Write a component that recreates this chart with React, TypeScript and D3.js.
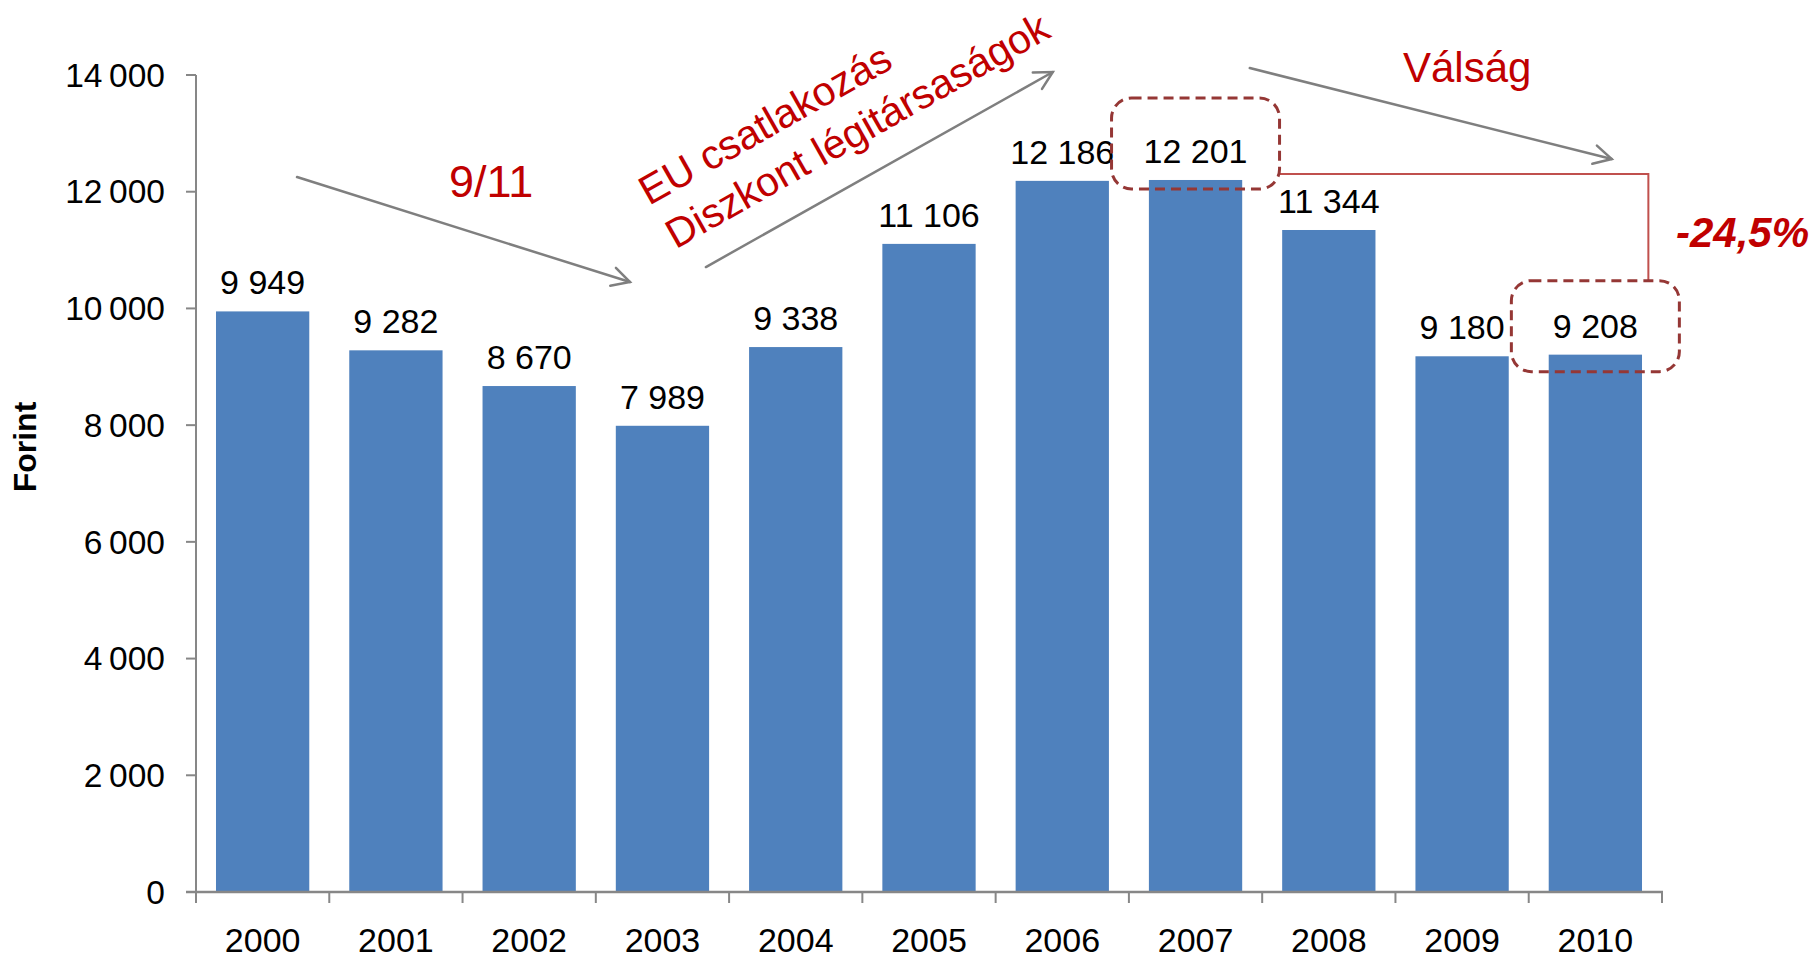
import React from "react";
import * as d3 from "d3";

const years = ["2000","2001","2002","2003","2004","2005","2006","2007","2008","2009","2010"];
const values = [9949, 9282, 8670, 7989, 9338, 11106, 12186, 12201, 11344, 9180, 9208];
const yTicks = [0, 2000, 4000, 6000, 8000, 10000, 12000, 14000];
const yTitle = "Forint";

// annotation arrows in (category index, value) space
const arrows = [
  { from: [0.258, 12252], to: [2.756, 10452] },
  { from: [3.326, 10709], to: [5.929, 14051] },
  { from: [7.407, 14119], to: [10.123, 12560] },
];
const highlightIdx = [7, 10];
const changeLabel = "-24,5%";

const W = 1814, H = 960;
const left = 196, right = 1662, top = 75, bottom = 892;
const FONT = "'Liberation Sans', Arial, sans-serif";

const fmt = (v: number) => {
  const s = String(v);
  return s.length > 3 ? s.slice(0, s.length - 3) + "\u2009" + s.slice(s.length - 3) : s;
};
const fmtLabel = (v: number) => {
  const s = String(v);
  return s.length > 3 ? s.slice(0, s.length - 3) + " " + s.slice(s.length - 3) : s;
};

export default function App() {
  const x = d3.scaleBand().domain(years).range([left, right]).paddingInner(0.3).paddingOuter(0.15);
  const y = d3.scaleLinear().domain([0, 14000]).range([bottom, top]);
  const xi = d3.scaleLinear().domain([-0.5, years.length - 0.5]).range([left, right]);
  const step = (right - left) / years.length;

  const arrowHead = (x1: number, y1: number, x2: number, y2: number) => {
    const ang = Math.atan2(y2 - y1, x2 - x1);
    const L = 20, a = (28 * Math.PI) / 180;
    const p1 = [x2 - L * Math.cos(ang - a), y2 - L * Math.sin(ang - a)];
    const p2 = [x2 - L * Math.cos(ang + a), y2 - L * Math.sin(ang + a)];
    return `M${p1[0]},${p1[1]} L${x2},${y2} L${p2[0]},${p2[1]}`;
  };

  const boxes = highlightIdx.map((i) => {
    const cx = xi(i);
    const yt = y(values[i]);
    return { x: cx - 84, y: yt - (i === 7 ? 82 : 74), w: 168, h: 91 };
  });
  const b1 = boxes[0], b2 = boxes[1];
  const connY = y(values[7]) - 6;
  const connX = b2.x + b2.w - 31;

  return (
    <svg width={W} height={H} style={{ position: "absolute", left: 0, top: 0, background: "#fff" }} fontFamily={FONT}>
      {values.map((v, i) => (
        <rect key={i} x={x(years[i])!} y={y(v)} width={x.bandwidth()} height={bottom - y(v)} fill="#4F81BD" />
      ))}
      <line x1={left} x2={left} y1={top} y2={bottom} stroke="#878787" strokeWidth={2} />
      {yTicks.map((t) => (
        <g key={t}>
          <line x1={left - 10} x2={left} y1={y(t)} y2={y(t)} stroke="#878787" strokeWidth={2} />
          <text x={165} y={y(t)} dy="0.35em" textAnchor="end" fontSize={33.5} fill="#000">{fmt(t)}</text>
        </g>
      ))}
      <line x1={left - 10} x2={right + 1} y1={bottom} y2={bottom} stroke="#878787" strokeWidth={2.5} />
      {d3.range(years.length + 1).map((i) => (
        <line key={i} x1={left + i * step} x2={left + i * step} y1={bottom} y2={bottom + 11} stroke="#878787" strokeWidth={2} />
      ))}
      {years.map((yr) => (
        <text key={yr} x={x(yr)! + x.bandwidth() / 2} y={952} textAnchor="middle" fontSize={34} fill="#000">{yr}</text>
      ))}
      {values.map((v, i) => (
        <text key={i} x={x(years[i])! + x.bandwidth() / 2} y={y(v) - 17} textAnchor="middle" fontSize={34} fill="#000">{fmtLabel(v)}</text>
      ))}
      <text transform={`translate(36,447) rotate(-90)`} textAnchor="middle" fontSize={32} fontWeight="bold" fill="#000">{yTitle}</text>

      {arrows.map((a, i) => {
        const x1 = xi(a.from[0]), y1 = y(a.from[1]), x2 = xi(a.to[0]), y2 = y(a.to[1]);
        return (
          <g key={i} stroke="#7F7F7F" strokeWidth={2.5} fill="none" strokeLinecap="round">
            <line x1={x1} y1={y1} x2={x2} y2={y2} />
            <path d={arrowHead(x1, y1, x2, y2)} />
          </g>
        );
      })}

      <text x={449} y={197} fontSize={45} fill="#C00000">9/11</text>
      <g transform="translate(649,206) rotate(-29.5)">
        <text x={0} y={0} fontSize={41} fill="#C00000">EU csatlakozás</text>
        <text x={2} y={51} fontSize={41} fill="#C00000">Diszkont légitársaságok</text>
      </g>
      <text x={1403} y={82} fontSize={42} fill="#C00000">Válság</text>

      <path d={`M${b1.x + b1.w},${connY} H${connX} V${b2.y}`} stroke="#C0504D" strokeWidth={2} fill="none" />
      {boxes.map((b, i) => (
        <rect key={i} x={b.x} y={b.y} width={b.w} height={b.h} rx={20} ry={20} fill="none" stroke="#953735" strokeWidth={3} strokeDasharray="10 6" />
      ))}
      <text x={1676} y={247} fontSize={42} fontWeight="bold" fontStyle="italic" fill="#C00000">{changeLabel}</text>
    </svg>
  );
}
